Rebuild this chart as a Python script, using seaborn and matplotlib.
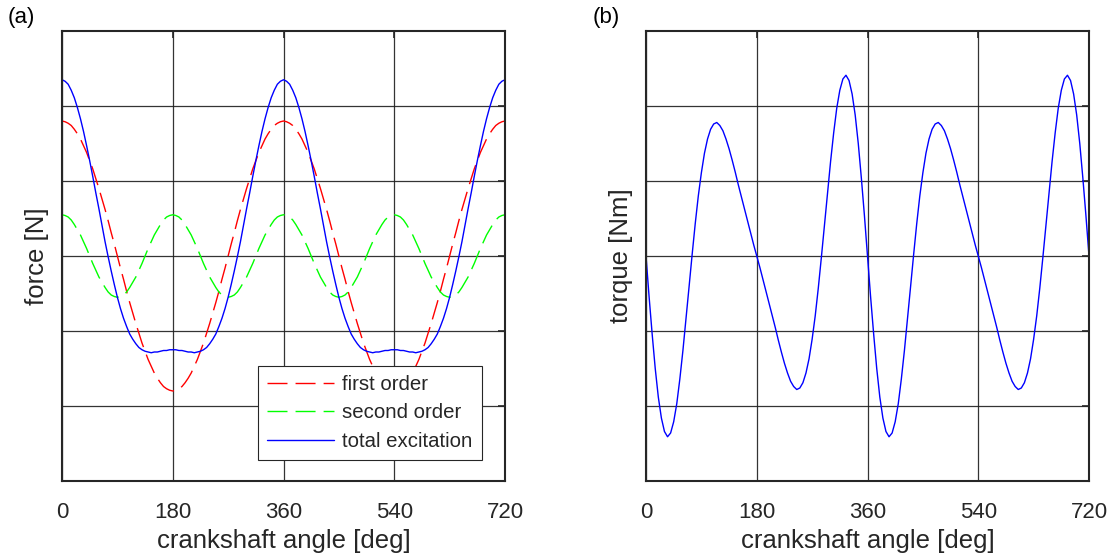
import matplotlib
matplotlib.use("Agg")
import matplotlib.pyplot as plt
import seaborn as sns

# --- data (5 deg steps, 0..720 deg) ---
angle = list(range(0, 725, 5))
x_ticks = [0, 180, 360, 540, 720]

first_order = [
    1.80, 1.79, 1.77, 1.74, 1.69, 1.63, 1.56, 1.47, 1.38, 1.27, 1.16, 1.03, 0.90, 0.76, 0.62, 0.47, 0.31, 0.16,
    0.00, -0.16, -0.31, -0.47, -0.62, -0.76, -0.90, -1.03, -1.16, -1.27, -1.38, -1.47, -1.56, -1.63, -1.69, -1.74, -1.77, -1.79,
    -1.80, -1.79, -1.77, -1.74, -1.69, -1.63, -1.56, -1.47, -1.38, -1.27, -1.16, -1.03, -0.90, -0.76, -0.62, -0.47, -0.31, -0.16,
    0.00, 0.16, 0.31, 0.47, 0.62, 0.76, 0.90, 1.03, 1.16, 1.27, 1.38, 1.47, 1.56, 1.63, 1.69, 1.74, 1.77, 1.79,
    1.80, 1.79, 1.77, 1.74, 1.69, 1.63, 1.56, 1.47, 1.38, 1.27, 1.16, 1.03, 0.90, 0.76, 0.62, 0.47, 0.31, 0.16,
    0.00, -0.16, -0.31, -0.47, -0.62, -0.76, -0.90, -1.03, -1.16, -1.27, -1.38, -1.47, -1.56, -1.63, -1.69, -1.74, -1.77, -1.79,
    -1.80, -1.79, -1.77, -1.74, -1.69, -1.63, -1.56, -1.47, -1.38, -1.27, -1.16, -1.03, -0.90, -0.76, -0.62, -0.47, -0.31, -0.16,
    0.00, 0.16, 0.31, 0.47, 0.62, 0.76, 0.90, 1.03, 1.16, 1.27, 1.38, 1.47, 1.56, 1.63, 1.69, 1.74, 1.77, 1.79,
    1.80,
]

second_order = [
    0.55, 0.54, 0.52, 0.48, 0.42, 0.35, 0.28, 0.19, 0.10, 0.00, -0.10, -0.19, -0.28, -0.35, -0.42, -0.48, -0.52, -0.54,
    -0.55, -0.54, -0.52, -0.48, -0.42, -0.35, -0.28, -0.19, -0.10, 0.00, 0.10, 0.19, 0.28, 0.35, 0.42, 0.48, 0.52, 0.54,
    0.55, 0.54, 0.52, 0.48, 0.42, 0.35, 0.28, 0.19, 0.10, 0.00, -0.10, -0.19, -0.28, -0.35, -0.42, -0.48, -0.52, -0.54,
    -0.55, -0.54, -0.52, -0.48, -0.42, -0.35, -0.28, -0.19, -0.10, 0.00, 0.10, 0.19, 0.28, 0.35, 0.42, 0.48, 0.52, 0.54,
    0.55, 0.54, 0.52, 0.48, 0.42, 0.35, 0.28, 0.19, 0.10, 0.00, -0.10, -0.19, -0.28, -0.35, -0.42, -0.48, -0.52, -0.54,
    -0.55, -0.54, -0.52, -0.48, -0.42, -0.35, -0.28, -0.19, -0.10, 0.00, 0.10, 0.19, 0.28, 0.35, 0.42, 0.48, 0.52, 0.54,
    0.55, 0.54, 0.52, 0.48, 0.42, 0.35, 0.28, 0.19, 0.10, 0.00, -0.10, -0.19, -0.28, -0.35, -0.42, -0.48, -0.52, -0.54,
    -0.55, -0.54, -0.52, -0.48, -0.42, -0.35, -0.28, -0.19, -0.10, 0.00, 0.10, 0.19, 0.28, 0.35, 0.42, 0.48, 0.52, 0.54,
    0.55,
]

total_excitation = [
    2.35, 2.33, 2.29, 2.21, 2.11, 1.98, 1.83, 1.66, 1.47, 1.27, 1.06, 0.84, 0.63, 0.41, 0.19, -0.01, -0.20, -0.38,
    -0.55, -0.70, -0.83, -0.94, -1.04, -1.11, -1.17, -1.22, -1.25, -1.27, -1.28, -1.29, -1.28, -1.28, -1.27, -1.26, -1.26, -1.25,
    -1.25, -1.25, -1.26, -1.26, -1.27, -1.28, -1.28, -1.29, -1.28, -1.27, -1.25, -1.22, -1.17, -1.11, -1.04, -0.94, -0.83, -0.70,
    -0.55, -0.38, -0.20, -0.01, 0.19, 0.41, 0.63, 0.84, 1.06, 1.27, 1.47, 1.66, 1.83, 1.98, 2.11, 2.21, 2.29, 2.33,
    2.35, 2.33, 2.29, 2.21, 2.11, 1.98, 1.83, 1.66, 1.47, 1.27, 1.06, 0.84, 0.63, 0.41, 0.19, -0.01, -0.20, -0.38,
    -0.55, -0.70, -0.83, -0.94, -1.04, -1.11, -1.17, -1.22, -1.25, -1.27, -1.28, -1.29, -1.28, -1.28, -1.27, -1.26, -1.26, -1.25,
    -1.25, -1.25, -1.26, -1.26, -1.27, -1.28, -1.28, -1.29, -1.28, -1.27, -1.25, -1.22, -1.17, -1.11, -1.04, -0.94, -0.83, -0.70,
    -0.55, -0.38, -0.20, -0.01, 0.19, 0.41, 0.63, 0.84, 1.06, 1.27, 1.47, 1.66, 1.83, 1.98, 2.11, 2.21, 2.29, 2.33,
    2.35,
]

torque = [
    0.00, -0.54, -1.04, -1.50, -1.88, -2.16, -2.34, -2.41, -2.36, -2.21, -1.97, -1.64, -1.26, -0.84, -0.41, 0.02, 0.43, 0.80,
    1.11, 1.37, 1.56, 1.69, 1.76, 1.78, 1.74, 1.67, 1.56, 1.43, 1.28, 1.12, 0.95, 0.79, 0.63, 0.47, 0.31, 0.15,
    0.00, -0.15, -0.31, -0.47, -0.63, -0.79, -0.95, -1.12, -1.28, -1.43, -1.56, -1.67, -1.74, -1.78, -1.76, -1.69, -1.56, -1.37,
    -1.11, -0.80, -0.43, -0.02, 0.41, 0.84, 1.26, 1.64, 1.97, 2.21, 2.36, 2.41, 2.34, 2.16, 1.88, 1.50, 1.04, 0.54,
    0.00, -0.54, -1.04, -1.50, -1.88, -2.16, -2.34, -2.41, -2.36, -2.21, -1.97, -1.64, -1.26, -0.84, -0.41, 0.02, 0.43, 0.80,
    1.11, 1.37, 1.56, 1.69, 1.76, 1.78, 1.74, 1.67, 1.56, 1.43, 1.28, 1.12, 0.95, 0.79, 0.63, 0.47, 0.31, 0.15,
    0.00, -0.15, -0.31, -0.47, -0.63, -0.79, -0.95, -1.12, -1.28, -1.43, -1.56, -1.67, -1.74, -1.78, -1.76, -1.69, -1.56, -1.37,
    -1.11, -0.80, -0.43, -0.02, 0.41, 0.84, 1.26, 1.64, 1.97, 2.21, 2.36, 2.41, 2.34, 2.16, 1.88, 1.50, 1.04, 0.54,
    0.00,
]

# --- style (MATLAB-like) ---
sns.set_style("white")
plt.rcParams['font.family'] = ['Liberation Sans', 'DejaVu Sans']
ink = '#262626'
dash = (0, (14.4, 5.8))

fig = plt.figure(figsize=(11.17, 5.57), dpi=100)
ax_a = fig.add_axes([62 / 1117, 76 / 557, 443 / 1117, 450 / 557])
ax_b = fig.add_axes([646 / 1117, 76 / 557, 443 / 1117, 450 / 557])

# (a) force
sns.lineplot(x=angle, y=first_order, ax=ax_a, color='#ff0000', linewidth=1.0,
             linestyle=dash, label='first order')
sns.lineplot(x=angle, y=second_order, ax=ax_a, color='#00ff00', linewidth=1.0,
             linestyle=dash, label='second order')
sns.lineplot(x=angle, y=total_excitation, ax=ax_a, color='#0000ff', linewidth=1.0,
             label='total excitation')

# (b) torque
sns.lineplot(x=angle, y=torque, ax=ax_b, color='#0000ff', linewidth=1.0, legend=False)

for ax, ylab in [(ax_a, 'force [N]'), (ax_b, 'torque [Nm]')]:
    ax.set_xlim(0, 720)
    ax.set_ylim(-3, 3)
    ax.set_xticks(x_ticks)
    ax.set_yticks([-2, -1, 0, 1, 2])
    ax.tick_params(direction='in', length=5, width=1.2, top=True, right=True,
                   colors=ink, labelsize=16, pad=15, labelleft=False)
    ax.grid(True, color='#1e1e1e', linewidth=0.9, alpha=0.9)
    ax.set_axisbelow(True)
    for sp in ax.spines.values():
        sp.set_visible(True)
        sp.set_linewidth(1.5)
        sp.set_color(ink)
    ax.set_xlabel('crankshaft angle [deg]', fontsize=18.5, color=ink)
    ax.xaxis.set_label_coords(0.5, -0.133)
    ax.xaxis.label.set_va('center')
    ax.set_ylabel(ylab, fontsize=18.5, color=ink)
    ax.yaxis.set_label_coords(-0.056, 0.5)
    ax.yaxis.label.set_va('center')

leg = ax_a.legend(loc='lower right', bbox_to_anchor=(0.948, 0.047), borderaxespad=0,
                  fontsize=14.7, frameon=True, fancybox=False, edgecolor=ink,
                  framealpha=1, handlelength=3.3, handletextpad=0.4,
                  labelspacing=0.45, borderpad=0.45)
leg.get_frame().set_linewidth(0.8)

fig.text(8 / 1117, 1 - 7 / 557, '(a)', fontsize=16, va='top', ha='left', color='black')
fig.text(593 / 1117, 1 - 7 / 557, '(b)', fontsize=16, va='top', ha='left', color='black')

fig.savefig('out.png', dpi=100)
